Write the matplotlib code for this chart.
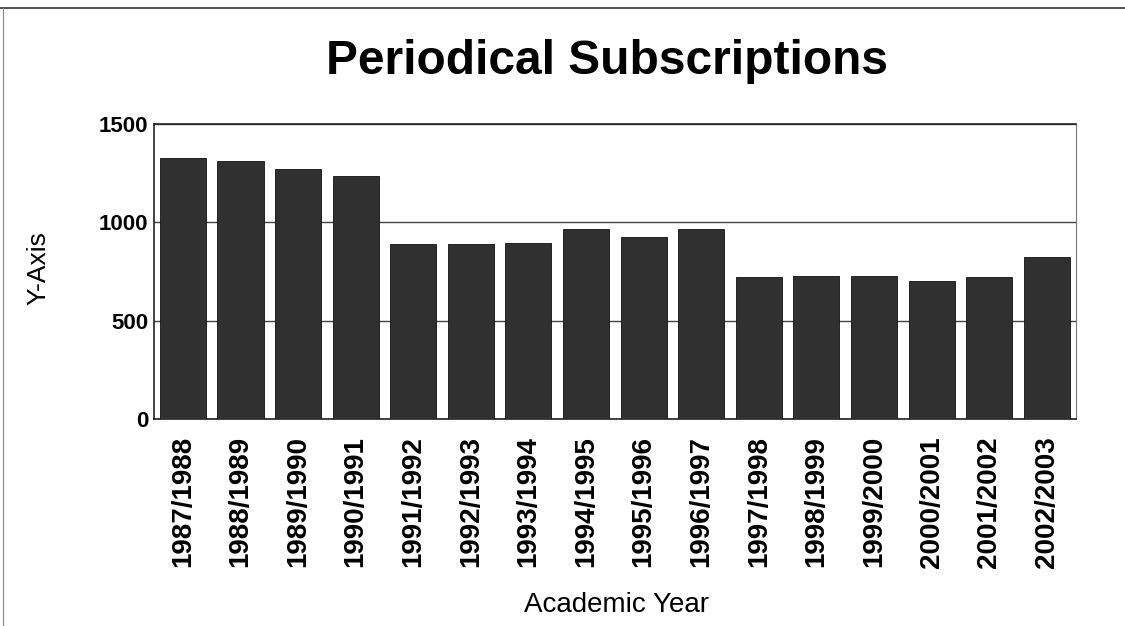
import matplotlib
matplotlib.use("Agg")
import matplotlib.pyplot as plt
from matplotlib.lines import Line2D

plt.rcParams['font.family'] = ['Liberation Sans', 'DejaVu Sans']

years = ["1987/1988", "1988/1989", "1989/1990", "1990/1991", "1991/1992",
         "1992/1993", "1993/1994", "1994/1995", "1995/1996", "1996/1997",
         "1997/1998", "1998/1999", "1999/2000", "2000/2001", "2001/2002",
         "2002/2003"]
subscriptions = [1326, 1314, 1270, 1236, 891, 891, 894, 965, 928, 965,
                 725, 730, 730, 701, 725, 823]
y_ticks = [0, 500, 1000, 1500]

fig = plt.figure(figsize=(11.25, 6.26), dpi=100)
ax = fig.add_axes([0.137, 0.330, 0.819, 0.472])

x = range(len(years))
ax.bar(x, subscriptions, width=0.8, color="#303030", edgecolor="#111111",
       linewidth=0.6, zorder=3)

ax.set_xlim(-0.5, len(years) - 0.5)
ax.set_ylim(0, 1500)
ax.set_yticks(y_ticks)
ax.set_yticklabels([str(t) for t in y_ticks], fontsize=16, fontweight="bold")
ax.set_xticks(list(x))
ax.set_xticklabels(years, rotation=90, fontsize=20, fontweight="bold",
                   ha="center", va="top")
ax.tick_params(axis="x", length=0, pad=12)
ax.tick_params(axis="y", length=0, pad=4)

ax.grid(axis="y", color="#444444", linewidth=1.0, zorder=0)
for side in ("left", "bottom", "top"):
    ax.spines[side].set_color("#222222")
    ax.spines[side].set_linewidth(1.2)
ax.spines["right"].set_color("#777777")
ax.spines["right"].set_linewidth(0.8)

fig.text(0.54, 0.902, "Periodical Subscriptions", fontsize=34.5,
         fontweight="bold", ha="center", va="center")
fig.text(0.034, 0.572, "Y-Axis", fontsize=19, rotation=90,
         ha="center", va="center")
fig.text(0.548, 0.033, "Academic Year", fontsize=20,
         ha="center", va="center")

# page frame lines along the top and left
fig.add_artist(Line2D([0, 1], [0.987, 0.987], transform=fig.transFigure,
                      color="#333333", linewidth=1.2))
fig.add_artist(Line2D([0.003, 0.003], [0, 0.987], transform=fig.transFigure,
                      color="#888888", linewidth=0.8))

fig.savefig("out.png", dpi=100)
